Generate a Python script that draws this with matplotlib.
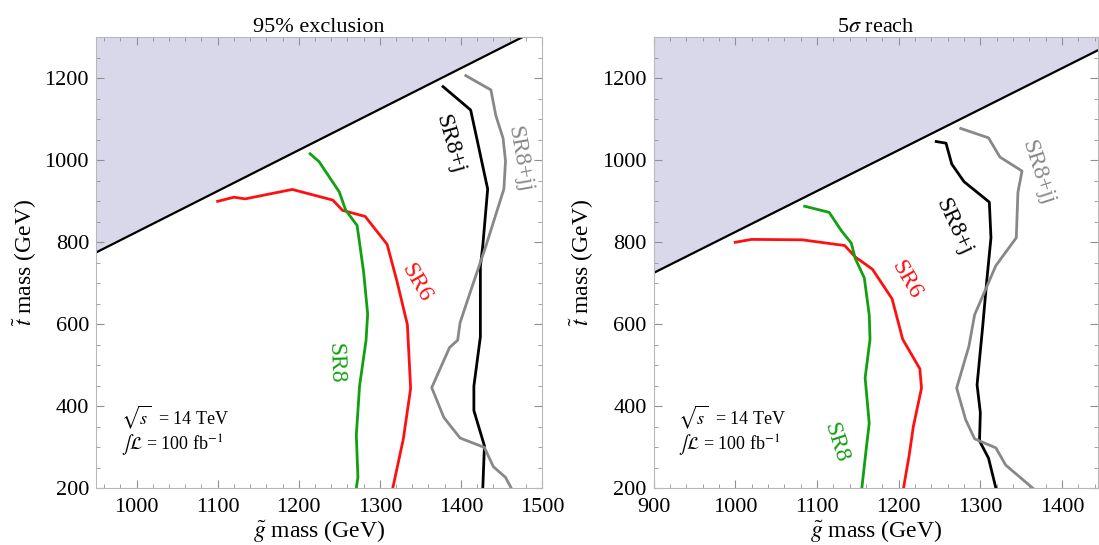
import matplotlib
matplotlib.use("Agg")
import matplotlib.pyplot as plt
import numpy as np

plt.rcParams['font.family'] = ['Liberation Serif', 'DejaVu Serif']
plt.rcParams['mathtext.fontset'] = 'stix'

m_top = 175  # kinematic boundary: m_stop = m_gluino - m_top

# 95% exclusion contours (gluino mass, stop mass)
excl_sr6_x = [1100, 1120, 1134, 1192, 1242, 1254, 1282, 1309, 1321, 1334, 1338, 1329, 1316]
excl_sr6_y = [900, 910, 906, 929, 903, 878, 863, 795, 706, 599, 443, 320, 200]
excl_sr8_x = [1214, 1225, 1250, 1258, 1272, 1280, 1285, 1283, 1275, 1271, 1273, 1271]
excl_sr8_y = [1016, 997, 923, 878, 841, 728, 625, 560, 449, 329, 226, 200]
excl_sr8j_x = [1378, 1412, 1420, 1433, 1427, 1424, 1424, 1416, 1416, 1429, 1427]
excl_sr8j_y = [1180, 1123, 1050, 930, 792, 741, 569, 449, 389, 303, 200]
excl_sr8jj_x = [1406, 1437, 1443, 1452, 1455, 1453, 1431, 1412, 1399, 1396, 1386, 1364,
                1379, 1399, 1429, 1440, 1455, 1462]
excl_sr8jj_y = [1207, 1172, 1110, 1054, 998, 930, 792, 681, 604, 561, 543, 445,
                372, 322, 299, 252, 226, 200]

# 5 sigma reach contours
reach_sr6_x = [1000, 1020, 1082, 1134, 1147, 1168, 1192, 1205, 1226, 1228, 1218, 1213, 1206]
reach_sr6_y = [800, 807, 806, 792, 764, 734, 662, 563, 491, 444, 350, 281, 200]
reach_sr8_x = [1085, 1115, 1130, 1142, 1147, 1158, 1164, 1165, 1159, 1164, 1160, 1155]
reach_sr8_y = [888, 873, 828, 798, 760, 713, 623, 563, 469, 358, 290, 200]
reach_sr8j_x = [1246, 1258, 1265, 1280, 1311, 1313, 1308, 1303, 1296, 1300, 1299, 1310, 1319]
reach_sr8j_y = [1046, 1042, 991, 948, 898, 811, 709, 597, 452, 384, 315, 273, 200]
reach_sr8jj_x = [1276, 1310, 1324, 1351, 1346, 1344, 1319, 1293, 1286, 1271, 1282, 1293,
                 1319, 1331, 1364]
reach_sr8jj_y = [1078, 1055, 1008, 974, 922, 811, 743, 623, 546, 444, 367, 320,
                 298, 256, 200]

red = '#ff1010'
green = '#10a010'
grey = '#888888'

panels = [
    dict(title='95% exclusion', xlim=(950, 1500),
         curves=[(excl_sr6_x, excl_sr6_y, red), (excl_sr8_x, excl_sr8_y, green),
                 (excl_sr8j_x, excl_sr8j_y, 'black'), (excl_sr8jj_x, excl_sr8jj_y, grey)],
         labels=[('SR6', 1345, 702, -60, red), ('SR8', 1245, 505, -88, green),
                 ('SR8+j', 1386, 1039, -74, 'black'), ('SR8+jj', 1472, 1002, -80, grey)],
         note_x=981, pos=[96, 542]),
    dict(title=r'5$\sigma$ reach', xlim=(900, 1444),
         curves=[(reach_sr6_x, reach_sr6_y, red), (reach_sr8_x, reach_sr8_y, green),
                 (reach_sr8j_x, reach_sr8j_y, 'black'), (reach_sr8jj_x, reach_sr8jj_y, grey)],
         labels=[('SR6', 1209, 708, -60, red), ('SR8', 1123, 311, -72, green),
                 ('SR8+j', 1267, 837, -65, 'black'), ('SR8+jj', 1370, 969, -72, grey)],
         note_x=930, pos=[653.5, 1098]),
]

W, H = 1099, 545
fig = plt.figure(figsize=(W / 100, H / 100), dpi=100)

for p in panels:
    x0, x1 = p['pos']
    ax = fig.add_axes([x0 / W, (H - 488) / H, (x1 - x0) / W, (488 - 37.5) / H])
    lo, hi = p['xlim']

    ax.set_xticks(np.arange(np.ceil(lo / 100) * 100, hi + 1, 100))
    ax.set_xticks(np.arange(np.ceil(lo / 20) * 20, hi + 1, 20), minor=True)
    ax.set_yticks(np.arange(200, 1301, 200))
    ax.set_yticks(np.arange(200, 1301, 50), minor=True)
    ax.set_xlim(lo, hi)
    ax.set_ylim(200, 1300)

    gx = np.array([lo, hi])
    ax.fill_between(gx, gx - m_top, 1400, color='#d8d8ea', lw=0)
    ax.plot(gx, gx - m_top, color='black', lw=1.6)

    for cx, cy, c in p['curves']:
        ax.plot(cx, cy, color=c, lw=2.0)
    for txt, tx, ty, rot, c in p['labels']:
        ax.text(tx, ty, txt, color=c, fontsize=17, rotation=rot,
                ha='center', va='center', rotation_mode='anchor')

    ax.text(p['note_x'], 372, r'$\sqrt{s}$  = 14 TeV', fontsize=13, va='center')
    ax.text(p['note_x'], 307, r'$\int\mathcal{L}$ = 100 fb$^{-1}$', fontsize=13, va='center')

    ax.set_title(p['title'], fontsize=16, pad=4)
    ax.set_xlabel(r'$\tilde{g}$ mass (GeV)', fontsize=17, labelpad=1)
    ax.set_ylabel(r'$\tilde{t}$ mass (GeV)', fontsize=17, labelpad=4)

    ax.tick_params(which='both', direction='in', top=True, right=True,
                   color='#909090', labelsize=16)
    ax.tick_params(which='major', length=6, width=0.8, pad=5)
    ax.tick_params(which='minor', length=3, width=0.6)
    ax.tick_params(axis='x', which='major', pad=7)
    for s in ax.spines.values():
        s.set_color('#b8b8b8')
        s.set_linewidth(0.8)

fig.savefig('out.png', dpi=100)
